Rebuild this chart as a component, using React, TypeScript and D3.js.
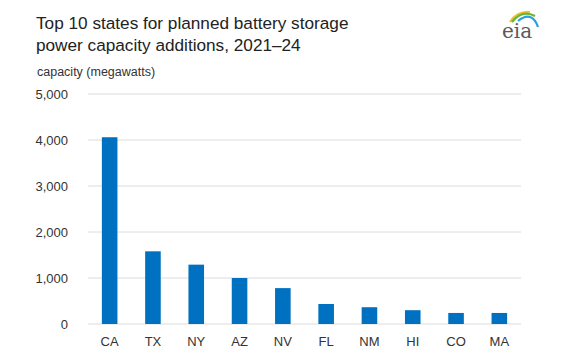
import { scaleBand, scaleLinear, format } from 'd3'

const states = ['CA', 'TX', 'NY', 'AZ', 'NV', 'FL', 'NM', 'HI', 'CO', 'MA']
const capacity = [4060, 1580, 1290, 1000, 780, 435, 365, 300, 240, 240]
const yTicks = [0, 1000, 2000, 3000, 4000, 5000]

const width = 585
const height = 363
const left = 88
const right = 521
const top = 94
const bottom = 324

const x = scaleBand().domain(states).range([left, right]).paddingInner(0.64).paddingOuter(0.32)
const y = scaleLinear().domain([0, 5000]).range([bottom, top])
const fmt = format(',')

const font = 'Liberation Sans, Arial, sans-serif'

const App = () => {
  return (
    <svg width={width} height={height}
      style={{ position: 'absolute', left: 0, top: 0, background: '#fff' }}>
      <text x={36} y={29} fontFamily={font} fontSize={17.2} fill="#222">
        Top 10 states for planned battery storage
      </text>
      <text x={36} y={51} fontFamily={font} fontSize={17.2} fill="#222">
        power capacity additions, 2021–24
      </text>
      <text x={37} y={76} fontFamily={font} fontSize={12.5} fill="#333">
        capacity (megawatts)
      </text>

      {/* eia logo */}
      <g>
        <path d="M510 22 Q517 11 530 12" fill="none" stroke="#f2c12e" strokeWidth={2.2} />
        <path d="M512 22 Q522 9 535 16" fill="none" stroke="#6cb33f" strokeWidth={2.2} />
        <path d="M518 21 Q532 10 538 27" fill="none" stroke="#2a9fd8" strokeWidth={2.2} />
        <text x={502} y={38} fontFamily="DejaVu Serif, Liberation Serif, serif" fontSize={20} fill="#5a5a5a">eia</text>
      </g>

      {yTicks.map(t => (
        <g key={t}>
          <line x1={left} x2={right} y1={y(t)} y2={y(t)} stroke="#dcdcdc" strokeWidth={1} />
          <text x={68} y={y(t)} dy="0.35em" textAnchor="end" fontFamily={font} fontSize={13} fill="#333">
            {fmt(t)}
          </text>
        </g>
      ))}

      {states.map((s, i) => (
        <rect key={s} x={x(s)} y={y(capacity[i])} width={x.bandwidth()}
          height={bottom - y(capacity[i])} fill="#0071c0" />
      ))}

      {states.map(s => (
        <text key={s} x={(x(s) as number) + x.bandwidth() / 2} y={346}
          textAnchor="middle" fontFamily={font} fontSize={13} fill="#333">
          {s}
        </text>
      ))}
    </svg>
  )
}

export default App
